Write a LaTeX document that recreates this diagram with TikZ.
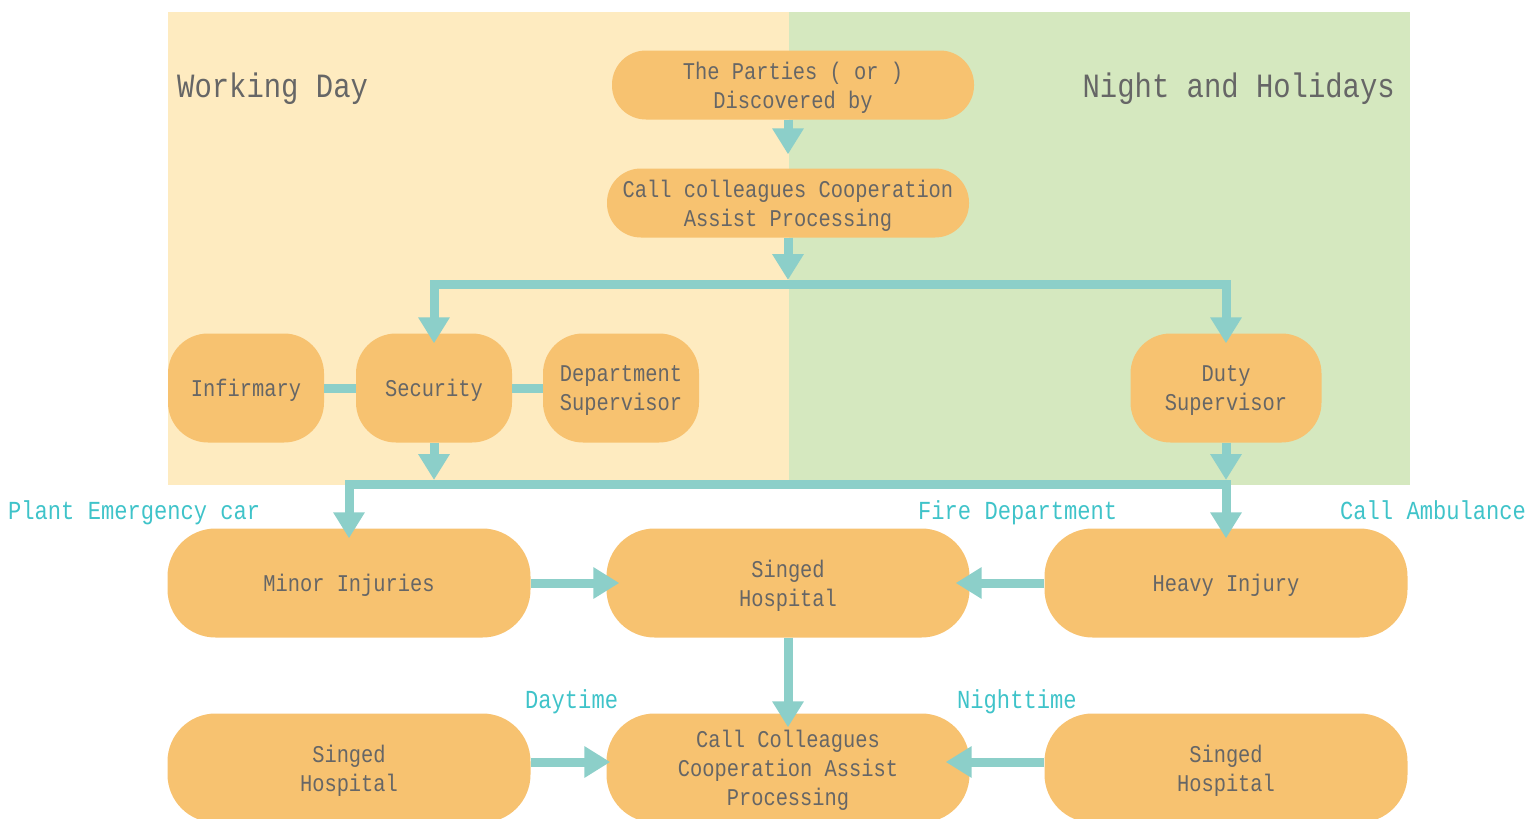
\documentclass[tikz,border=0pt]{standalone}
\usepackage{fontspec}
\setmonofont[FakeStretch=0.85]{Liberation Mono}
\usetikzlibrary{arrows.meta, positioning}

\definecolor{dayfill}{HTML}{FEEBC0}
\definecolor{nightfill}{HTML}{D5E8BF}
\definecolor{boxfill}{HTML}{F7C270}
\definecolor{flowcol}{HTML}{8CCFC9}
\definecolor{notecol}{HTML}{3FC3C9}
\definecolor{textcol}{HTML}{666666}

\tikzset{
    box/.style={fill=boxfill, inner sep=0pt, align=center, text=textcol, text depth=-12pt,
        font=\ttfamily\fontsize{24}{29}\selectfont},
    pill/.style={box, rounded corners=34pt, minimum width=362pt, minimum height=69pt},
    smallbox/.style={box, rounded corners=40pt, minimum width=156pt, minimum height=109pt},
    widebox/.style={box, rounded corners=48pt, minimum width=363pt, minimum height=109pt},
    flow/.style={draw=flowcol, line width=9pt, -{Triangle[width=30pt,length=26pt]}},
    link/.style={draw=flowcol, line width=9pt},
    note/.style={text=notecol, inner sep=0pt, font=\ttfamily\fontsize{26}{30}\selectfont},
    zone/.style={text=textcol, inner sep=0pt, font=\ttfamily\fontsize{34}{40}\selectfont}
}

\begin{document}
\begin{tikzpicture}[x=1pt, y=-1pt]
    \useasboundingbox (0,0) rectangle (1539,819);

    % Day and night zones
    \fill[dayfill] (168,12) rectangle (789,485);
    \fill[nightfill] (789,12) rectangle (1410,485);
    \node[zone, anchor=west] (dayzone) at (177,89) {Working Day};
    \node[zone, anchor=east] (nightzone) at (1395,89) {Night and Holidays};

    % Steps
    \node[pill] (parties) at (793,85) {The Parties ( or )\\Discovered by};
    \node[pill] (callc) at (788,203) {Call colleagues Cooperation\\Assist Processing};
    \node[smallbox] (infirmary) at (246,388) {Infirmary};
    \node[smallbox] (security) at (434,388) {Security};
    \node[smallbox] (deptsup) at (621,388) {Department\\Supervisor};
    \node[smallbox, minimum width=191pt] (dutysup) at (1226,388) {Duty\\Supervisor};
    \node[widebox] (minor) at (349,583) {Minor Injuries};
    \node[widebox] (hospmid) at (788,583) {Singed\\Hospital};
    \node[widebox] (heavy) at (1226,583) {Heavy Injury};
    \node[widebox] (hospleft) at (349,768) {Singed\\Hospital};
    \node[widebox] (callb) at (788,768) {Call Colleagues\\Cooperation Assist\\Processing};
    \node[widebox] (hospright) at (1226,768) {Singed\\Hospital};

    % Notes
    \node[note, anchor=base west] (plantcar) at (8,519) {Plant Emergency car};
    \node[note, anchor=base west] (firedept) at (918,519) {Fire Department};
    \node[note, anchor=base west] (ambulance) at (1340,519) {Call Ambulance};
    \node[note, anchor=base west] (daytime) at (525,708) {Daytime};
    \node[note, anchor=base west] (nighttime) at (957,708) {Nighttime};

    % Branch points
    \coordinate (split1) at (788,284);
    \coordinate (s1l) at (434,284);
    \coordinate (s1r) at (1226,284);
    \coordinate (join2) at (434,484);
    \coordinate (s2l) at (349,484);
    \coordinate (s2r) at (1226,484);

    % Flow
    \draw[flow] (callc.north |- parties.south) -- ([yshift=14pt]callc.north);
    \draw[flow, shorten >=4pt] (callc) -- (split1);
    \draw[link, line cap=rect] (s1l) -- (s1r);
    \draw[flow, shorten >=-10pt] (s1l) -- (security);
    \draw[flow, shorten >=-10pt] (s1r) -- (dutysup);
    \draw[link] (infirmary) -- (security);
    \draw[link] (security) -- (deptsup);
    \draw[flow, shorten >=4pt] (security) -- (join2);
    \draw[flow, shorten >=4pt] (dutysup) -- (s2r);
    \draw[link, line cap=rect] (s2l) -- (s2r);
    \draw[flow, shorten >=-10pt] (s2l) -- (minor);
    \draw[flow, shorten >=-10pt] (s2r) -- (heavy);
    \draw[flow, shorten >=-13pt] (minor) -- (hospmid);
    \draw[flow, shorten >=-14pt] (heavy) -- (hospmid);
    \draw[flow, shorten >=-14pt] (hospmid) -- (callb);
    \draw[flow, shorten >=-4pt] ([yshift=6pt]hospleft.east) -- ([yshift=6pt]callb.west);
    \draw[flow, shorten >=-24pt] ([yshift=6pt]hospright.west) -- ([yshift=6pt]callb.east);
\end{tikzpicture}
\end{document}
